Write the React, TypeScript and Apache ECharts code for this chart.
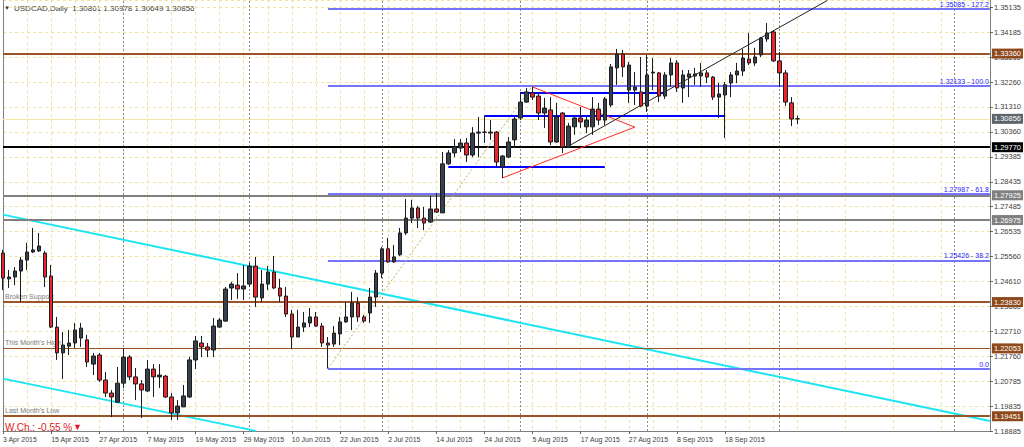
import React, { useEffect, useRef } from 'react';
import * as echarts from 'echarts';

const FONT = '"Liberation Sans", Arial, sans-serif';

// ---- axis tick labels ----
const dateTickLabels = [
  '3 Apr 2015', '15 Apr 2015', '27 Apr 2015', '7 May 2015', '19 May 2015', '29 May 2015',
  '10 Jun 2015', '22 Jun 2015', '2 Jul 2015', '14 Jul 2015', '24 Jul 2015', '5 Aug 2015',
  '17 Aug 2015', '27 Aug 2015', '8 Sep 2015', '18 Sep 2015', '30 Sep 2015',
];
const priceTickLabels = [
  '1.18885', '1.19835', '1.20785', '1.21760', '1.22710', '1.23660', '1.24610', '1.25560',
  '1.26535', '1.27485', '1.28435', '1.29385', '1.30360', '1.31310', '1.32260', '1.33210',
  '1.34185', '1.35135',
];
const PRICE_MIN = 1.18885;
const PRICE_MAX = 1.35415;
const PRICE_STEP = (1.35135 - 1.18885) / 17;
const BAR_SLOTS = 164;

// ---- daily OHLC (index 0 = 3 Apr 2015) ----
const opens = [
  1.2571, 1.2472, 1.2479, 1.2502, 1.2544, 1.2575, 1.2579, 1.2571, 1.2483, 1.2287,
  1.2188, 1.2214, 1.2226, 1.2245, 1.2238, 1.2145, 1.2180, 1.2084, 1.2034, 1.1999,
  1.2072, 1.2172, 1.2096, 1.2069, 1.2042, 1.2126, 1.2096, 1.2099, 1.2019, 1.1958,
  1.1981, 1.2019, 1.2161, 1.2226, 1.2211, 1.2199, 1.2287, 1.2310, 1.2437, 1.2448,
  1.2433, 1.2452, 1.2521, 1.2399, 1.2452, 1.2498, 1.2437, 1.2406, 1.2337, 1.2249,
  1.2287, 1.2303, 1.2326, 1.2291, 1.2226, 1.2222, 1.2261, 1.2307, 1.2326, 1.2379,
  1.2326, 1.2341, 1.2402, 1.2494, 1.2587, 1.2537, 1.2564, 1.2648, 1.2705, 1.2744,
  1.2705, 1.2690, 1.2740, 1.2725, 1.2913, 1.2955, 1.2974, 1.2993, 1.2947, 1.3031,
  1.3035, 1.3035, 1.3035, 1.2901, 1.2939, 1.3005, 1.3089, 1.3150, 1.3185, 1.3173,
  1.3108, 1.3120, 1.2997, 1.3108, 1.2978, 1.3055, 1.3089, 1.3055, 1.3055, 1.3123,
  1.3081, 1.3139, 1.3281, 1.3334, 1.3196, 1.3196, 1.3189, 1.3135, 1.3262, 1.3262,
  1.3173, 1.3254, 1.3300, 1.3204, 1.3246, 1.3250, 1.3250, 1.3262, 1.3246, 1.3169,
  1.3177, 1.3223, 1.3254, 1.3269, 1.3315, 1.3300, 1.3331, 1.3392, 1.3419, 1.3308,
  1.3262, 1.3147, 1.30861,
];
const highs = [
  1.2583, 1.2506, 1.2517, 1.2556, 1.2610, 1.2667, 1.2648, 1.2579, 1.2525, 1.2326,
  1.2268, 1.2276, 1.2303, 1.2303, 1.2257, 1.2188, 1.2188, 1.2115, 1.2046, 1.2134,
  1.2207, 1.2180, 1.2130, 1.2084, 1.2161, 1.2145, 1.2145, 1.2103, 1.2034, 1.2007,
  1.2065, 1.2172, 1.2253, 1.2253, 1.2226, 1.2322, 1.2322, 1.2441, 1.2460, 1.2494,
  1.2525, 1.2533, 1.2556, 1.2506, 1.2521, 1.2560, 1.2472, 1.2441, 1.2353, 1.2353,
  1.2345, 1.2360, 1.2345, 1.2303, 1.2249, 1.2291, 1.2326, 1.2383, 1.2422, 1.2402,
  1.2334, 1.2437, 1.2506, 1.2594, 1.2629, 1.2602, 1.2667, 1.2778, 1.2775, 1.2751,
  1.2748, 1.2790, 1.2801, 1.2959, 1.2966, 1.3008, 1.3008, 1.3012, 1.3054, 1.3093,
  1.3097, 1.3081, 1.3039, 1.2947, 1.3016, 1.3093, 1.3189, 1.3204, 1.3208, 1.3185,
  1.3166, 1.3169, 1.3147, 1.3112, 1.3070, 1.3093, 1.3131, 1.3093, 1.3169, 1.3147,
  1.3169, 1.3296, 1.3354, 1.3350, 1.3304, 1.3265, 1.3323, 1.3331, 1.3319, 1.3265,
  1.3265, 1.3319, 1.3311, 1.3273, 1.3273, 1.3281, 1.3300, 1.3273, 1.3250, 1.3223,
  1.3227, 1.3265, 1.3300, 1.3354, 1.3415, 1.3358, 1.3400, 1.3453, 1.3426, 1.3342,
  1.3273, 1.3169, 1.30978,
];
const lows = [
  1.2429, 1.2437, 1.2448, 1.2383, 1.2506, 1.2571, 1.2575, 1.2441, 1.2283, 1.2161,
  1.2088, 1.2180, 1.2207, 1.2211, 1.2134, 1.2103, 1.2076, 1.2019, 1.1942, 1.1996,
  1.2053, 1.2084, 1.2007, 1.1938, 1.2038, 1.2019, 1.2053, 1.2015, 1.1931, 1.1931,
  1.1981, 1.2015, 1.2126, 1.2172, 1.2172, 1.2172, 1.2283, 1.2307, 1.2391, 1.2395,
  1.2391, 1.2441, 1.2364, 1.2383, 1.2429, 1.2433, 1.2383, 1.2326, 1.2203, 1.2249,
  1.2268, 1.2287, 1.2287, 1.2211, 1.2128, 1.2211, 1.2218, 1.2303, 1.2276, 1.2307,
  1.2303, 1.2303, 1.2364, 1.2475, 1.2533, 1.2533, 1.2560, 1.2640, 1.2686, 1.2667,
  1.2659, 1.2686, 1.2725, 1.2725, 1.2909, 1.2939, 1.2959, 1.2920, 1.2939, 1.2939,
  1.2993, 1.3005, 1.2901, 1.2859, 1.2936, 1.2974, 1.3081, 1.3147, 1.3158, 1.3081,
  1.3051, 1.2985, 1.2993, 1.2955, 1.2974, 1.3024, 1.3051, 1.3031, 1.3024, 1.3062,
  1.3062, 1.3131, 1.3216, 1.3246, 1.3147, 1.3139, 1.3131, 1.3112, 1.3196, 1.3150,
  1.3162, 1.3208, 1.3189, 1.3147, 1.3169, 1.3216, 1.3208, 1.3223, 1.3158, 1.3089,
  1.3012, 1.3169, 1.3223, 1.3250, 1.3292, 1.3288, 1.3323, 1.3381, 1.3304, 1.3208,
  1.3135, 1.3058, 1.30649,
];
const closes = [
  1.2475, 1.2479, 1.2502, 1.2544, 1.2575, 1.2583, 1.2598, 1.2479, 1.2287, 1.2188,
  1.2218, 1.2226, 1.2276, 1.2283, 1.2153, 1.2176, 1.2084, 1.2034, 1.2019, 1.2072,
  1.2172, 1.2096, 1.2069, 1.2046, 1.2126, 1.2096, 1.2103, 1.2019, 1.1958, 1.1984,
  1.2023, 1.2161, 1.2234, 1.2211, 1.2199, 1.2291, 1.2314, 1.2433, 1.2452, 1.2433,
  1.2445, 1.2521, 1.2402, 1.2452, 1.2498, 1.2437, 1.2406, 1.2337, 1.2249, 1.2287,
  1.2303, 1.2326, 1.2291, 1.2226, 1.2218, 1.2264, 1.2307, 1.2326, 1.2379, 1.2326,
  1.2310, 1.2402, 1.2494, 1.2587, 1.2537, 1.2556, 1.2648, 1.2705, 1.2744, 1.2705,
  1.2686, 1.2740, 1.2728, 1.2913, 1.2955, 1.2978, 1.2993, 1.2947, 1.3031, 1.3035,
  1.3034, 1.3031, 1.2920, 1.2943, 1.2997, 1.3085, 1.3150, 1.3189, 1.3169, 1.3108,
  1.3127, 1.2997, 1.3093, 1.2978, 1.3058, 1.3089, 1.3074, 1.3081, 1.3123, 1.3081,
  1.3162, 1.3285, 1.3334, 1.3285, 1.3292, 1.3208, 1.3135, 1.3254, 1.3265, 1.3173,
  1.3254, 1.3300, 1.3204, 1.3254, 1.3258, 1.3258, 1.3262, 1.3246, 1.3169, 1.3181,
  1.3216, 1.3254, 1.3269, 1.3319, 1.3300, 1.3323, 1.3396, 1.3415, 1.3308, 1.3262,
  1.3150, 1.3085, 1.30856,
];

// ---- horizontal levels (full width, with price tag) ----
const keyLevels = [1.3336, 1.30856, 1.2977, 1.27925, 1.26975, 1.2383, 1.22053, 1.19451];
const keyLevelKinds = ['brown', 'bid', 'black', 'gray', 'gray', 'brown', 'brownThin', 'brown'];
const levelNotes = [
  { level: 1.2383, text: 'Broken Support' },
  { level: 1.22053, text: "This Month's High" },
  { level: 1.19451, text: "Last Month's Low" },
];

// ---- Fibonacci retracement ----
const fibStartIndex = 54;
const fibHighIndex = 88;
const fibLevels = [1.2128, 1.25426, 1.27987, 1.32133, 1.35085];
const fibRatios = ['0.0', '38.2', '61.8', '100.0', '127.2'];

// ---- drawn objects (bar index, price) ----
const blueSegments = [
  [[74, 1.2902], [100, 1.2902]],
  [[80, 1.30966], [120, 1.30966]],
  [[86, 1.31868], [110, 1.31868]],
];
const triangleLines = [
  [[88, 1.3208], [105, 1.3054]],
  [[83, 1.2859], [105, 1.3054]],
];
const trendLines = [[[94, 1.29816], [137, 1.354]]];
const channelLines = [
  [[0, 1.27184], [164, 1.19269]],
  [[0, 1.20894], [42, 1.1889]],
];
const periodSeparators = [20, 41, 63, 86, 107, 129, 158];
const weeklyChange = '-0.55';

const BROWN = '#9a5426';
const GRID = '#efe3a2';

function buildOption() {
  const candleData = opens.map((o, i) => [i, o, closes[i], lows[i], highs[i]]);
  const last = opens.length - 1;

  const kindStyle: Record<string, any> = {
    brown: { line: BROWN, width: 2, tag: '#8e4a1c' },
    brownThin: { line: BROWN, width: 1, tag: '#8e4a1c' },
    bid: { line: '#f3e7a8', width: 1, tag: '#5d646c' },
    black: { line: '#000000', width: 2, tag: '#000000' },
    gray: { line: '#808080', width: 2, tag: '#808080' },
  };

  const mk: any[] = [];

  periodSeparators.forEach((x) => {
    mk.push({ xAxis: x, lineStyle: { color: '#8a8a8a', width: 1, type: [2, 2] }, label: { show: false } });
  });

  levelNotes.forEach((n) => {
    mk.push({
      yAxis: n.level,
      lineStyle: { color: 'rgba(255,255,255,0)', width: 1, opacity: 1 },
      label: {
        show: true,
        position: 'insideStartTop',
        distance: [2, 2],
        formatter: n.text,
        color: '#7a7a7a',
        opacity: 1,
        fontSize: 7,
        fontFamily: FONT,
      },
    });
  });

  channelLines.forEach((seg) => {
    mk.push([
      { coord: seg[0], lineStyle: { color: '#19e6f2', width: 2, type: 'solid' }, label: { show: false } },
      { coord: seg[1] },
    ]);
  });

  keyLevels.forEach((v, i) => {
    const s = kindStyle[keyLevelKinds[i]];
    mk.push({
      yAxis: v,
      lineStyle: { color: s.line, width: s.width, type: 'solid' },
      label: {
        show: true,
        position: 'end',
        distance: 2,
        formatter: v.toFixed(5),
        color: '#ffffff',
        backgroundColor: s.tag,
        padding: [1, 2, 1, 2],
        fontSize: 7.5,
        fontFamily: FONT,
      },
    });
  });

  fibLevels.forEach((v, i) => {
    const txt = fibRatios[i] === '0.0' ? '0.0' : `${v.toFixed(5)} - ${fibRatios[i]}`;
    mk.push([
      {
        coord: [fibStartIndex, v],
        lineStyle: { color: '#7474ff', width: 2, type: 'solid' },
        label: {
          show: true,
          position: 'insideEndTop',
          distance: [1, 1],
          formatter: txt,
          color: '#2626ff',
          fontSize: 7,
          fontFamily: FONT,
        },
      },
      { coord: [BAR_SLOTS, v] },
    ]);
  });

  mk.push([
    { coord: [fibStartIndex, fibLevels[0]], lineStyle: { color: '#b4b46a', width: 1, type: [2, 2] }, label: { show: false } },
    { coord: [fibHighIndex, fibLevels[3]] },
  ]);

  blueSegments.forEach((seg) => {
    mk.push([
      { coord: seg[0], lineStyle: { color: '#0000ff', width: 2, type: 'solid' }, label: { show: false } },
      { coord: seg[1] },
    ]);
  });
  triangleLines.forEach((seg) => {
    mk.push([
      { coord: seg[0], lineStyle: { color: '#ff2a2a', width: 1, type: 'solid' }, label: { show: false } },
      { coord: seg[1] },
    ]);
  });
  trendLines.forEach((seg) => {
    mk.push([
      { coord: seg[0], lineStyle: { color: '#222222', width: 1, type: 'solid' }, label: { show: false } },
      { coord: seg[1] },
    ]);
  });

  const header = `USDCAD,Daily  ${opens[last].toFixed(5)} ${highs[last].toFixed(5)} ${lows[last].toFixed(5)} ${closes[last].toFixed(5)}`;
  const dateTicks = dateTickLabels.map((_, k) => k * 8);

  return {
    animation: false,
    backgroundColor: '#ffffff',
    textStyle: { fontFamily: FONT },
    grid: { left: 3, right: 32, top: 0, bottom: 16, containLabel: false },
    xAxis: {
      type: 'value',
      min: 0,
      max: BAR_SLOTS,
      interval: 8,
      axisLine: { show: true, onZero: false, lineStyle: { color: '#808080', width: 1 } },
      axisTick: { show: true, length: 3, customValues: dateTicks, lineStyle: { color: '#606060' } },
      axisLabel: {
        customValues: dateTicks,
        formatter: (v: number) => {
          const k = Math.round(v / 8);
          return Math.abs(v - k * 8) < 1e-6 && k < dateTickLabels.length ? dateTickLabels[k] : '';
        },
        align: 'left',
        margin: 5,
        fontSize: 7,
        color: '#404040',
        fontFamily: FONT,
        showMaxLabel: false,
      },
      splitLine: { show: true, lineStyle: { color: GRID, width: 1, type: [3, 3] } },
      minorTick: { show: false, splitNumber: 2 },
      minorSplitLine: { show: true, lineStyle: { color: GRID, width: 1, type: [3, 3] } },
    },
    yAxis: [
      {
        type: 'value',
        min: PRICE_MIN,
        max: PRICE_MAX,
        position: 'left',
        axisLine: { show: true, lineStyle: { color: '#808080', width: 1 } },
        axisTick: { show: false },
        axisLabel: { show: false },
        splitLine: { show: false },
      },
      {
        type: 'value',
        min: 0,
        max: (PRICE_MAX - PRICE_MIN) / PRICE_STEP,
        interval: 1,
        position: 'right',
        axisLine: { show: true, lineStyle: { color: '#808080', width: 1 } },
        axisTick: { show: true, length: 3, lineStyle: { color: '#606060' } },
        axisLabel: {
          formatter: (v: number) => {
            const k = Math.round(v);
            return Math.abs(v - k) < 1e-6 && k < priceTickLabels.length ? priceTickLabels[k] : '';
          },
          margin: 4,
          fontSize: 7.5,
          color: '#404040',
          fontFamily: FONT,
          showMaxLabel: false,
        },
        splitLine: { show: true, lineStyle: { color: GRID, width: 1, type: [3, 3] } },
      },
    ],
    series: [
      {
        type: 'candlestick',
        xAxisIndex: 0,
        yAxisIndex: 0,
        z: 3,
        clip: false,
        barWidth: 4,
        data: candleData,
        itemStyle: {
          color: '#37414b',
          color0: '#e8262b',
          borderColor: '#1c1c1c',
          borderColor0: '#1c1c1c',
          borderWidth: 1,
        },
        markLine: {
          silent: true,
          z: 1,
          precision: 6,
          symbol: ['none', 'none'],
          animation: false,
          label: { show: false },
          emphasis: { disabled: true },
          data: mk,
        },
      },
    ],
    graphic: [
      { type: 'text', left: 4, top: 5, style: { text: '▼', fill: '#333333', fontSize: 6, fontFamily: FONT } },
      { type: 'text', left: 14, top: 4, style: { text: header, fill: '#404040', fontSize: 8, fontFamily: FONT } },
      {
        type: 'text',
        left: 5,
        top: 422,
        style: { text: `W.Ch.: ${weeklyChange} %`, fill: '#e01818', fontSize: 10, fontFamily: FONT },
      },
      { type: 'text', left: 73, top: 422, style: { text: '▼', fill: '#e01818', fontSize: 9, fontFamily: FONT } },
    ],
  };
}

export default function App() {
  const ref = useRef<HTMLDivElement>(null);
  useEffect(() => {
    document.body.style.margin = '0';
    const chart = echarts.init(ref.current as HTMLDivElement, null, { renderer: 'svg' });
    chart.setOption(buildOption() as any);
    return () => chart.dispose();
  }, []);
  return (
    <div
      ref={ref}
      style={{ position: 'absolute', left: 0, top: 0, width: 1024, height: 447, background: '#ffffff' }}
    />
  );
}
